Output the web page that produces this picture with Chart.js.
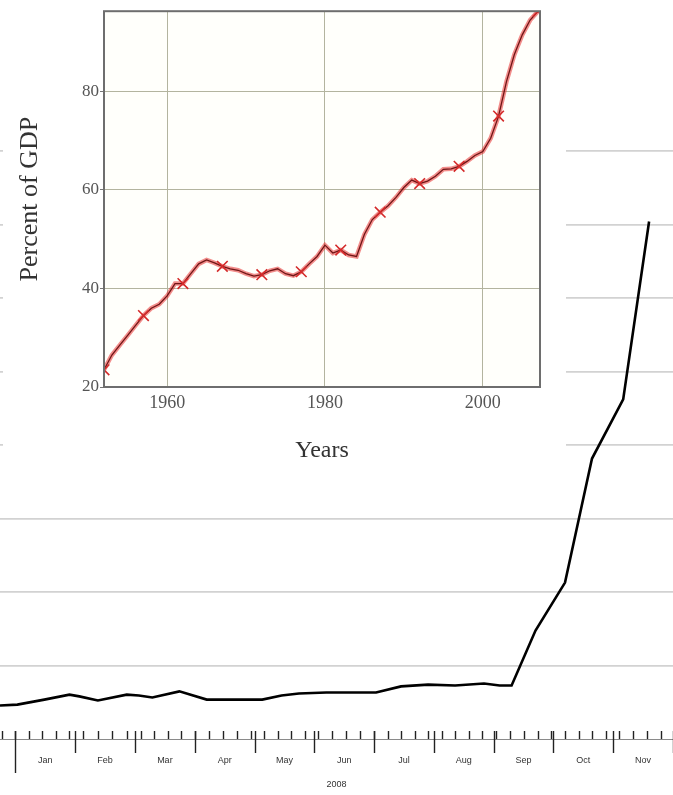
<!DOCTYPE html>
<html>
<head>
<meta charset="utf-8">
<script src="https://cdn.jsdelivr.net/npm/chart.js@4.4.1/dist/chart.umd.min.js"></script>
<style>
  html, body { margin: 0; padding: 0; background: #ffffff; }
  #wrap { position: relative; width: 673px; height: 795px; overflow: hidden; }
  #bg { position: absolute; left: 0; top: 0; width: 673px; height: 795px; }
  #insetBox { position: absolute; left: 3px; top: 0; width: 563px; height: 478px; background: #ffffff; }
  #inset { position: absolute; left: 0; top: 0; width: 563px; height: 478px; }
</style>
</head>
<body>
<div id="wrap">
  <div id="bg"><canvas id="bgCanvas" width="673" height="795"></canvas></div>
  <div id="insetBox"><canvas id="insetCanvas" width="563" height="478"></canvas></div>
</div>
<script>
// ---------- Background chart data (2008) ----------
const bgDates = ['2007-12-24','2008-01-02','2008-01-16','2008-01-29','2008-02-03','2008-02-12',
  '2008-02-26','2008-03-03','2008-03-10','2008-03-24','2008-04-07','2008-04-17','2008-05-05',
  '2008-05-15','2008-05-24','2008-06-07','2008-07-02','2008-07-15','2008-07-29','2008-08-12',
  '2008-08-27','2008-09-04','2008-09-10','2008-09-22','2008-10-07','2008-10-21','2008-11-06','2008-11-19'];
const bgValues = [864, 867, 884, 901, 895, 881, 901, 898, 891, 912, 884, 884, 884,
  898, 905, 908, 908, 929, 935, 932, 939, 932, 932, 1119, 1282, 1704, 1905, 2510];
const monthLabels = ['Jan','Feb','Mar','Apr','May','Jun','Jul','Aug','Sep','Oct','Nov'];
const yearLabel = '2008';
const bgYMin = 750, bgYMax = 2750, bgYStep = 250;

// ---------- Inset chart data ----------
const insetYears = [];
for (let y = 1952; y <= 2007; y++) insetYears.push(y);
const insetValues = [23.5, 26.5, 28.5, 30.5, 32.5, 34.5, 36.0, 36.8, 38.5, 41.0,
  41.0, 43.0, 45.0, 45.8, 45.2, 44.5, 44.0, 43.7, 43.0, 42.5,
  42.8, 43.6, 44.0, 43.0, 42.6, 43.4, 45.0, 46.5, 48.8, 47.2,
  47.8, 46.8, 46.5, 51.0, 54.0, 55.5, 56.8, 58.5, 60.5, 62.0,
  61.3, 61.8, 62.8, 64.2, 64.3, 64.8, 65.8, 67.0, 67.8, 70.5,
  75.0, 82.0, 87.5, 91.5, 94.5, 96.3];
const insetXTicks = [1960, 1980, 2000];
const insetYTicks = [20, 40, 60, 80];
const insetXTitle = 'Years';
const insetYTitle = 'Percent of GDP';

// date -> month position (Jan 1 2008 = 0, each month one unit)
function toMonth(s) {
  const [y, m, d] = s.split('-').map(Number);
  const dim = new Date(y, m, 0).getDate();
  return (y - 2008) * 12 + (m - 1) + (d - 1) / dim;
}

const bgPoints = bgDates.map((d, i) => ({ x: toMonth(d), y: bgValues[i] }));

// weekly minor tick dates (Tuesdays)
const weekTicks = [];
{
  let t = new Date(2007, 11, 25);
  const end = new Date(2008, 11, 2);
  while (t <= end) {
    const s = t.getFullYear() + '-' + (t.getMonth() + 1) + '-' + t.getDate();
    weekTicks.push(toMonth(s));
    t = new Date(t.getFullYear(), t.getMonth(), t.getDate() + 7);
  }
}

const timeAxisPlugin = {
  id: 'timeAxis',
  afterDraw(chart) {
    const ctx = chart.ctx;
    const xs = chart.scales.x;
    const yb = chart.chartArea.bottom;
    ctx.save();
    ctx.strokeStyle = '#8a8a8a';
    ctx.lineWidth = 1;
    ctx.beginPath(); ctx.moveTo(0, yb + 0.5); ctx.lineTo(chart.width, yb + 0.5); ctx.stroke();
    ctx.strokeStyle = '#222';
    ctx.lineWidth = 1.4;
    weekTicks.forEach(v => {
      const px = Math.round(xs.getPixelForValue(v)) + 0.5;
      ctx.beginPath(); ctx.moveTo(px, yb - 8); ctx.lineTo(px, yb); ctx.stroke();
    });
    for (let m = 0; m <= 11; m++) {
      const px = Math.round(xs.getPixelForValue(m)) + 0.5;
      ctx.beginPath(); ctx.moveTo(px, yb - 8); ctx.lineTo(px, yb + (m === 0 ? 34 : 14)); ctx.stroke();
    }
    ctx.fillStyle = '#333';
    ctx.font = '9px "Liberation Sans", Arial, sans-serif';
    ctx.textAlign = 'center';
    ctx.textBaseline = 'middle';
    monthLabels.forEach((lab, m) => {
      ctx.fillText(lab, xs.getPixelForValue(m + 0.5), yb + 22);
    });
    ctx.fillText(yearLabel, xs.getPixelForValue((xs.min + xs.max) / 2), yb + 46);
    ctx.restore();
  }
};

new Chart(document.getElementById('bgCanvas'), {
  type: 'line',
  data: {
    datasets: [{
      data: bgPoints,
      borderColor: '#000',
      borderWidth: 2.6,
      pointRadius: 0,
      tension: 0
    }]
  },
  options: {
    responsive: false,
    animation: false,
    events: [],
    layout: { padding: { top: 151, bottom: 56, left: 0, right: 0 } },
    plugins: { legend: { display: false }, tooltip: { enabled: false } },
    scales: {
      x: { type: 'linear', display: false, min: bgPoints[0].x, max: 11 },
      y: {
        type: 'linear', min: bgYMin, max: bgYMax,
        ticks: { display: false, stepSize: bgYStep },
        border: { display: false },
        grid: {
          drawTicks: false,
          color: c => (c.tick && c.tick.value === bgYMin) ? 'rgba(0,0,0,0)' : '#d2d2d2',
          lineWidth: 1.8
        },
        afterFit(s) { s.width = 0; }
      }
    }
  },
  plugins: [timeAxisPlugin]
});

// ---------- Inset ----------
const insetData = insetYears.map((y, i) => ({ x: y, y: insetValues[i] }));
const insetMarks = insetData.filter(p => (p.x - 1952) % 5 === 0);

const insetFramePlugin = {
  id: 'insetFrame',
  beforeDraw(chart) {
    const { ctx, chartArea: a } = chart;
    ctx.save();
    ctx.fillStyle = '#fffffb';
    ctx.fillRect(a.left, a.top, a.right - a.left, a.bottom - a.top);
    ctx.restore();
  },
  afterDraw(chart) {
    const { ctx, chartArea: a } = chart;
    ctx.save();
    ctx.strokeStyle = '#6e6e6e';
    ctx.lineWidth = 2;
    ctx.strokeRect(a.left, a.top, a.right - a.left, a.bottom - a.top);
    ctx.restore();
  }
};

const serif = '"Liberation Serif", "Times New Roman", serif';

new Chart(document.getElementById('insetCanvas'), {
  type: 'line',
  data: {
    datasets: [
      { data: insetData, borderColor: 'rgba(232,48,48,0.55)', borderWidth: 4.5, pointRadius: 0, tension: 0, order: 3 },
      { data: insetData, borderColor: '#701616', borderWidth: 1.3, pointRadius: 0, tension: 0, order: 2 },
      { data: insetMarks, showLine: false, pointStyle: 'crossRot', pointRadius: 7.5,
        pointBorderColor: '#d42a2a', pointBorderWidth: 1.6, borderColor: '#d42a2a', order: 1 }
    ]
  },
  options: {
    responsive: false,
    animation: false,
    events: [],
    layout: { padding: { top: 9, right: 26, left: 0, bottom: 0 } },
    plugins: { legend: { display: false }, tooltip: { enabled: false } },
    scales: {
      x: {
        type: 'linear', min: 1952, max: 2007.25,
        afterBuildTicks(s) { s.ticks = insetXTicks.map(v => ({ value: v })); },
        ticks: { color: '#555', font: { family: serif, size: 18 }, padding: 5, maxRotation: 0,
          callback: v => String(v) },
        grid: { color: '#b3b49f', lineWidth: 1, drawTicks: false },
        border: { display: false },
        title: { display: true, text: insetXTitle, color: '#333',
          font: { family: serif, size: 24 }, padding: { top: 0, bottom: 13 } },
        afterFit(s) { s.height = 91; }
      },
      y: {
        type: 'linear', min: 20, max: 96.3,
        afterBuildTicks(s) { s.ticks = insetYTicks.map(v => ({ value: v })); },
        ticks: { color: '#555', font: { family: serif, size: 17 }, padding: 1,
          callback: v => String(v) },
        grid: { color: '#b3b49f', lineWidth: 1, drawTicks: true, tickLength: 4, tickColor: '#777' },
        border: { display: false },
        title: { display: true, text: insetYTitle, color: '#333',
          font: { family: serif, size: 26 }, padding: { top: 12, bottom: 0 } },
        afterFit(s) { s.width = 101; }
      }
    }
  },
  plugins: [insetFramePlugin]
});
</script>
</body>
</html>
